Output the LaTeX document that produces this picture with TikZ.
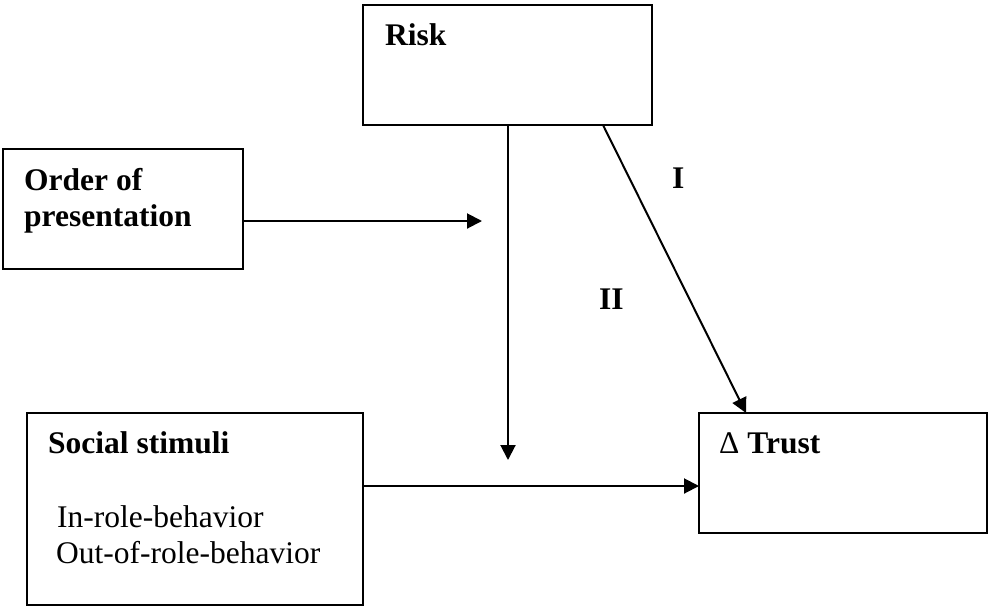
\documentclass[tikz,border=0pt]{standalone}
\usepackage{fontspec}
\setmainfont{Liberation Serif}
\usetikzlibrary{arrows.meta}

\begin{document}
\begin{tikzpicture}[x=1pt, y=-1pt,
  box/.style={draw, line width=2pt, outer sep=0pt, inner sep=0pt, anchor=north west},
  label/.style={anchor=base west, inner sep=0pt, font=\fontsize{31.5}{36}\selectfont},
  title/.style={label, font=\fontsize{31.5}{36}\selectfont\bfseries},
  arr/.style={line width=2pt, -{Triangle[length=15pt, width=15pt]}}]
  \useasboundingbox (0,0) rectangle (990,606);

  % boxes
  \node[box, minimum width=289pt, minimum height=120pt] (risk) at (363,5) {};
  \node[box, minimum width=240pt, minimum height=120pt] (order) at (3,149) {};
  \node[box, minimum width=336pt, minimum height=192pt] (social) at (27,413) {};
  \node[box, minimum width=288pt, minimum height=120pt] (trust) at (699,413) {};

  % box texts
  \node[title] (risktxt) at (385,45) {Risk};
  \node[title] (ordertxta) at (24,190) {Order of};
  \node[title] (ordertxtb) at (24,226) {presentation};
  \node[title] (socialtxt) at (48,453) {Social stimuli};
  \node[label] (inrole) at (57,527) {In-role-behavior};
  \node[label] (outrole) at (56,563) {Out-of-role-behavior};
  \node[title] (trusttxt) at (719,453) {{\mdseries Δ} Trust};

  % path labels
  \node[title] (pathI) at (672,188) {I};
  \node[title] (pathII) at (599,309) {II};

  % free arrow ends and routing points
  \coordinate (ordertip) at (482,221);
  \coordinate (risktip) at (508,460);
  \coordinate (hline) at (0,486);

  % connectors
  \draw[arr] (order.east |- ordertip) -- (ordertip);
  \draw[arr] (risktip |- risk.south) -- (risktip);
  \draw[arr] ([xshift=240pt]risk.south west) -- ([xshift=47pt]trust.north west);
  \draw[arr] (social.east |- hline) -- (trust.west |- hline);
\end{tikzpicture}
\end{document}
